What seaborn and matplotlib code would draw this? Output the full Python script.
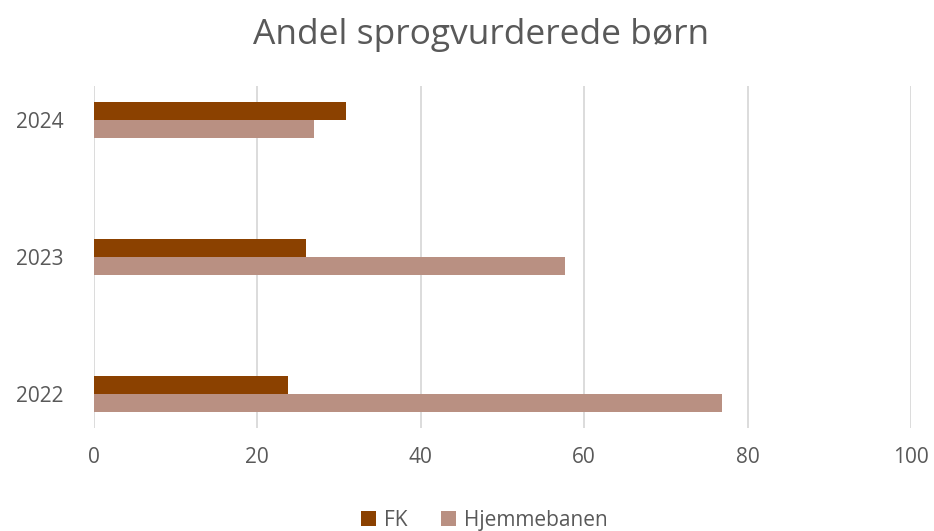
import pandas as pd
import matplotlib
matplotlib.use('Agg')
import matplotlib.pyplot as plt
import seaborn as sns

# Data
years = ['2024', '2023', '2022']
fk = [30.9, 26.0, 23.8]
hjemmebanen = [26.9, 57.7, 76.9]
series_names = ['FK', 'Hjemmebanen']
x_ticks = [0, 20, 40, 60, 80, 100]

df = pd.DataFrame({
    'year': years * 2,
    'value': fk + hjemmebanen,
    'series': [series_names[0]] * len(years) + [series_names[1]] * len(years),
})

sns.set_theme(style='white')
plt.rcParams['font.family'] = ['Open Sans', 'DejaVu Sans']

text_color = '#595959'
palette = {'FK': '#8B4100', 'Hjemmebanen': '#B99082'}

fig = plt.figure(figsize=(9.34, 5.31), dpi=100)
ax = fig.add_axes([0.1006, 0.194, 0.8748, 0.644])

sns.barplot(data=df, y='year', x='value', hue='series', order=years,
            hue_order=series_names, palette=palette, orient='h',
            width=0.265, gap=0, saturation=1, ax=ax, legend=True,
            edgecolor='none')

ax.set_xlim(0, 100)
ax.set_ylim(2.25, -0.25)
ax.set_xticks(x_ticks)
ax.set_xlabel('')
ax.set_ylabel('')
ax.grid(axis='x', color='#D9D9D9', linewidth=1.3)
ax.set_axisbelow(True)
for s in ax.spines.values():
    s.set_visible(False)
ax.tick_params(axis='both', length=0, labelsize=15, labelcolor=text_color)
ax.tick_params(axis='x', pad=14)
ax.tick_params(axis='y', pad=22)

fig.suptitle('Andel sprogvurderede børn', fontsize=25.5, color=text_color,
             x=0.515, y=0.966)

ax.legend(loc='lower center', bbox_to_anchor=(0.478, -0.355), ncol=2, frameon=False,
          fontsize=15, labelcolor=text_color, handlelength=0.7, handleheight=0.7,
          handletextpad=0.4, columnspacing=1.6)

plt.savefig('out.png', dpi=100)
